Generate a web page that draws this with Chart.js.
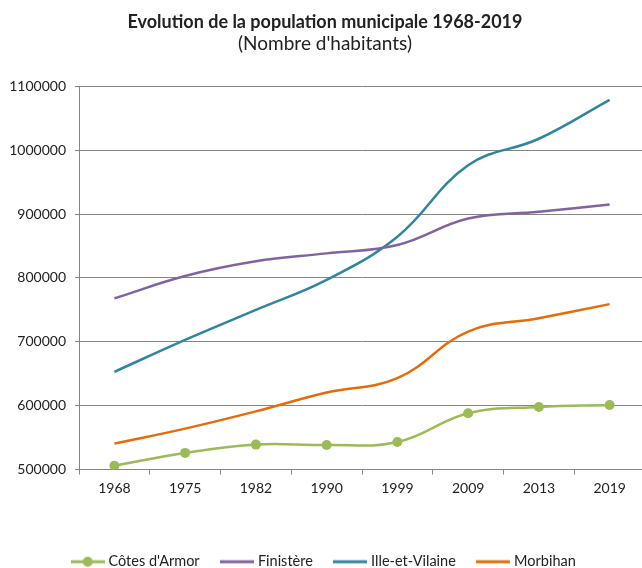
<!DOCTYPE html>
<html>
<head>
<meta charset="utf-8">
<script src="https://cdn.jsdelivr.net/npm/chart.js@4"></script>
<style>
  html, body { margin: 0; padding: 0; background: #fff; overflow: hidden; }
  #wrap { width: 650px; height: 568px; }
</style>
</head>
<body>
<div id="wrap"><canvas id="chart" width="650" height="568"></canvas></div>
<script>
// Population municipale par département
const years = ['1968', '1975', '1982', '1990', '1999', '2009', '2013', '2019'];
const cotesArmor   = [506000, 526000, 539000, 538500, 543000, 588000, 598000, 601000];
const finistere    = [768000, 803000, 826000, 838500, 851500, 893000, 903500, 915000];
const illeVilaine  = [653000, 703000, 750000, 797000, 864500, 976500, 1018000, 1079000];
const morbihan     = [540500, 564000, 591000, 620500, 643000, 716000, 737000, 759000];
const yTicks       = [500000, 600000, 700000, 800000, 900000, 1000000, 1100000];

const FONT = 'Lato, "Liberation Sans", sans-serif';
const TEXT = '#222';

// small legend swatch: a line, optionally with a dot in the middle
function swatch(color, withDot) {
  const c = document.createElement('canvas');
  c.width = 34; c.height = 12;
  const g = c.getContext('2d');
  g.strokeStyle = color; g.lineWidth = 3;
  g.beginPath(); g.moveTo(0, 6); g.lineTo(34, 6); g.stroke();
  if (withDot) {
    g.fillStyle = color;
    g.beginPath(); g.arc(17, 6, 5, 0, Math.PI * 2); g.fill();
  }
  return c;
}

function series(label, data, color, markers) {
  return {
    label, data,
    borderColor: color,
    backgroundColor: color,
    borderWidth: 2.5,
    tension: 0.4,
    pointRadius: markers ? 5 : 0,
    pointHoverRadius: markers ? 5 : 0,
    pointBackgroundColor: color,
    pointBorderWidth: 0,
    pointStyle: 'circle',
    fill: false
  };
}

const datasets = [
  series("Côtes d'Armor", cotesArmor, '#9bbb59', true),
  series('Finistère', finistere, '#8064a2', false),
  series('Ille-et-Vilaine', illeVilaine, '#31859c', false),
  series('Morbihan', morbihan, '#e46c0a', false)
];

new Chart(document.getElementById('chart').getContext('2d'), {
  type: 'line',
  data: { labels: years, datasets },
  options: {
    responsive: false,
    animation: false,
    layout: { padding: { left: 0, right: 0, top: 7, bottom: -11 } },
    plugins: {
      title: {
        display: true,
        text: 'Evolution de la population municipale 1968-2019',
        color: TEXT,
        font: { family: FONT, size: 18, weight: 'bold' },
        padding: { top: 4, bottom: 0 }
      },
      subtitle: {
        display: true,
        text: "(Nombre d'habitants)",
        color: TEXT,
        font: { family: FONT, size: 19 },
        padding: { top: 0, bottom: 31 }
      },
      legend: {
        position: 'bottom',
        labels: {
          color: TEXT,
          font: { family: FONT, size: 14.5 },
          usePointStyle: true,
          pointStyleWidth: 27,
          padding: 24,
          generateLabels(chart) {
            return chart.data.datasets.map((ds, i) => ({
              text: ds.label,
              fontColor: TEXT,
              pointStyle: swatch(ds.borderColor, i === 0),
              lineWidth: 0,
              strokeStyle: 'transparent',
              fillStyle: 'transparent',
              datasetIndex: i,
              hidden: false
            }));
          }
        }
      },
      tooltip: { enabled: false }
    },
    scales: {
      x: {
        offset: true,
        grid: { display: true, drawOnChartArea: false, offset: true, tickLength: 5, color: '#868686' },
        border: { display: true, color: '#868686', width: 1 },
        ticks: { color: TEXT, font: { family: FONT, size: 14 }, padding: 6, maxRotation: 0 },
        afterFit(axis) { axis.height = 61; }
      },
      y: {
        min: 500000,
        max: 1100000,
        afterBuildTicks(axis) { axis.ticks = yTicks.map(v => ({ value: v })); },
        afterFit(axis) { axis.width = 79; },
        grid: { color: '#868686', tickLength: 4, lineWidth: 1 },
        border: { display: true, color: '#868686', width: 1 },
        ticks: {
          color: TEXT, font: { family: FONT, size: 14 }, padding: 9,
          callback: v => String(v)
        }
      }
    }
  }
});
</script>
</body>
</html>
